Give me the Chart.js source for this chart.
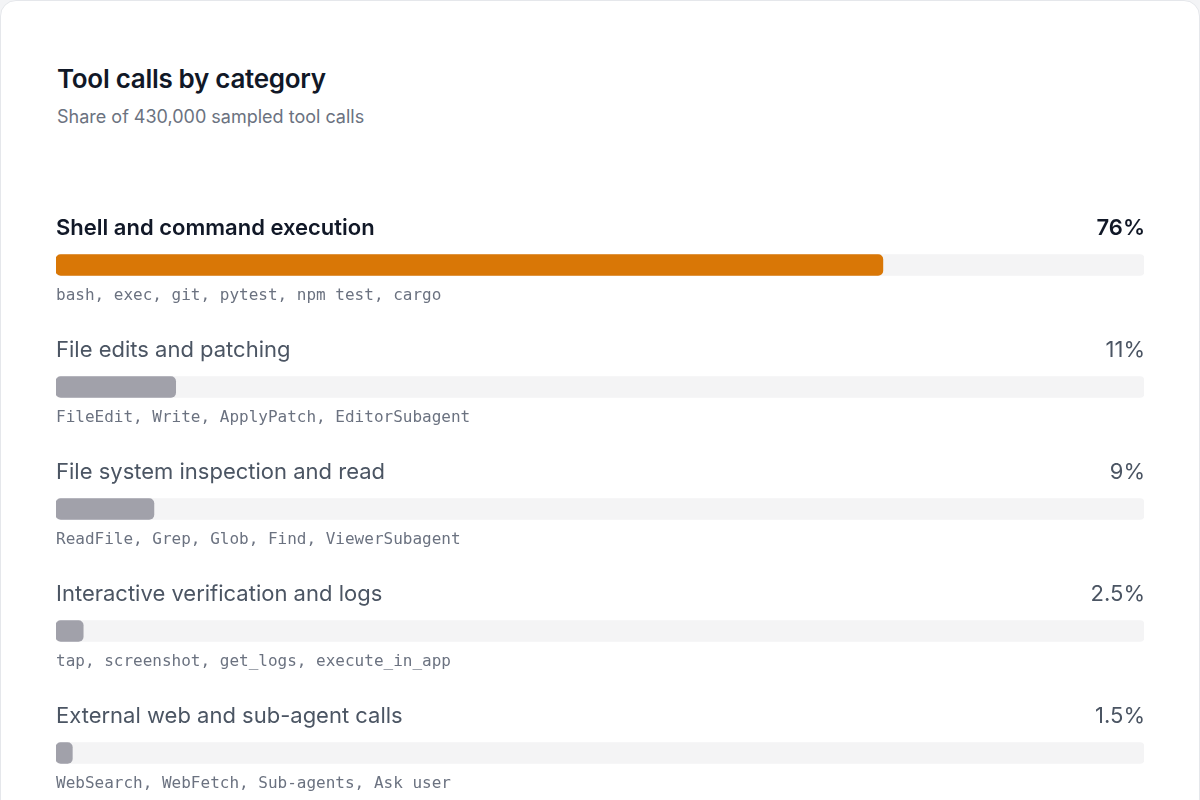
<!DOCTYPE html>
<html><head><meta charset="utf-8">
<script src="https://cdn.jsdelivr.net/npm/chart.js@4"></script>
<style>
html,body{margin:0;padding:0;width:1200px;height:800px;overflow:hidden;background:#f3f4f6;font-family:Inter,"Noto Sans",sans-serif}
#card{position:absolute;left:0;top:0;width:1198px;height:830px;border:1px solid #e5e7eb;border-radius:16px;background:#fff}
#t{position:absolute;left:57px;top:63px;font-size:26px;font-weight:600;color:#111827;letter-spacing:-0.3px}
#s{position:absolute;left:57px;top:106px;font-size:18px;color:#6b7280}
#c{position:absolute;left:0;top:0}
</style></head><body>
<div id="card"></div>
<div id="t">Tool calls by category</div>
<div id="s">Share of 430,000 sampled tool calls</div>
<canvas id="c" width="1200" height="830" style="width:1200px;height:830px"></canvas>
<script>
const categories=["Shell and command execution","File edits and patching","File system inspection and read","Interactive verification and logs","External web and sub-agent calls"];
const shares=[76,11,9,2.5,1.5];
const shareLabels=["76%","11%","9%","2.5%","1.5%"];
const examples=["bash, exec, git, pytest, npm test, cargo","FileEdit, Write, ApplyPatch, EditorSubagent","ReadFile, Grep, Glob, Find, ViewerSubagent","tap, screenshot, get_logs, execute_in_app","WebSearch, WebFetch, Sub-agents, Ask user"];
const textPlugin={id:'txt',afterDatasetsDraw(ch){
 const c=ch.ctx,y=ch.scales.y,a=ch.chartArea;
 categories.forEach((cat,i)=>{
  const cy=y.getPixelForValue(i);
  c.save();c.textBaseline='middle';
  c.font=(i===0?'600 ':'400 ')+'22px Inter, "Noto Sans", sans-serif';
  c.fillStyle=i===0?'#111827':'#4b5563';
  c.textAlign='left';c.fillText(cat,a.left,cy-37);
  c.textAlign='right';c.fillText(shareLabels[i],a.right+1,cy-37);
  c.font='16px "DejaVu Sans Mono", monospace';c.fillStyle='#6b7280';c.textAlign='left';
  c.fillText(examples[i],a.left,cy+31);
  c.restore();
 });
}};
new Chart(document.getElementById('c'),{type:'bar',
 data:{labels:categories,datasets:[
  {data:shares,backgroundColor:shares.map((v,i)=>i===0?'#d97706':'#a1a1aa'),barThickness:21,borderRadius:5,borderSkipped:false,grouped:false,order:0},
  {data:shares.map(()=>100),backgroundColor:'#f4f4f5',barThickness:21,borderRadius:4,borderSkipped:false,grouped:false,order:1}
 ]},
 options:{indexAxis:'y',responsive:false,animation:false,devicePixelRatio:1,
  layout:{padding:{top:204,bottom:16,left:56,right:56}},
  plugins:{legend:{display:false},tooltip:{enabled:false}},
  scales:{x:{display:false,min:0,max:100},y:{display:false}}},
 plugins:[textPlugin]});
</script></body></html>
